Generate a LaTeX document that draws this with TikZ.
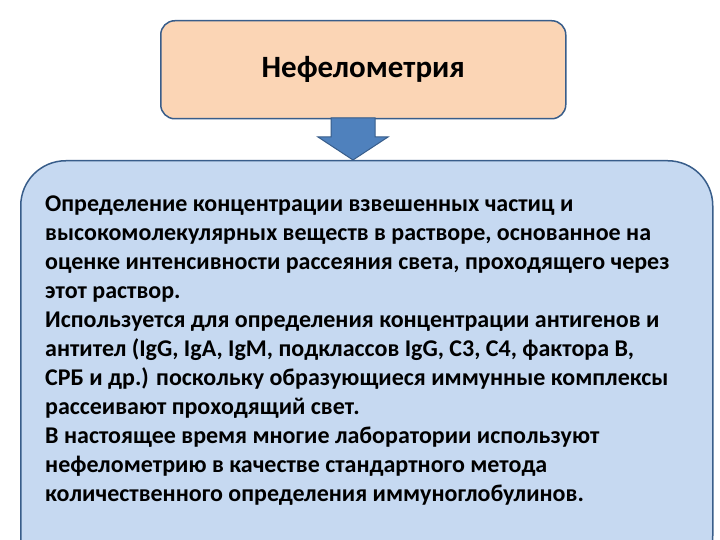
\documentclass[tikz,border=0pt]{standalone}
\usepackage{fontspec}
\setmainfont{Carlito}
\definecolor{peach}{HTML}{FBD5B5}
\definecolor{lblue}{HTML}{C6D9F1}
\definecolor{bord}{HTML}{385D8A}
\definecolor{arr}{HTML}{4F81BD}
\tikzset{box/.style={draw=bord,line width=1.5pt}}
\begin{document}
\begin{tikzpicture}[x=1pt,y=-1pt]
\useasboundingbox (0,0) rectangle (720,540);
\clip (0,0) rectangle (720,540);
\fill[white] (0,0) rectangle (720,540);
\node[box,fill=peach,rounded corners=14pt,minimum width=405pt,minimum height=98pt,anchor=north west,font=\bfseries\fontsize{31}{36}\selectfont] (title) at (160,20) {Нефелометрия};
\node[box,fill=lblue,rounded corners=45pt,minimum width=692pt,minimum height=420pt,anchor=north west] (body) at (20,160) {};
\coordinate (tip) at (353,160);
\fill[arr,draw=bord,line width=1pt] (331,118) -- (375,118) -- (375,137) -- (388,137) -- (tip) -- (318,137) -- (331,137) -- cycle;
\node[anchor=north west,align=left,inner sep=0pt,font=\bfseries\fontsize{24}{29}\selectfont] (txt) at (45,196) {Определение концентрации взвешенных частиц и\\
высокомолекулярных веществ в растворе, основанное на\\
оценке интенсивности рассеяния света, проходящего через\\
этот раствор.\\
Используется для определения концентрации антигенов и\\
антител (IgG, IgA, IgM, подклассов IgG, C3, C4, фактора B,\\
СРБ и др.) поскольку образующиеся иммунные комплексы\\
рассеивают проходящий свет.\\
В настоящее время многие лаборатории используют\\
нефелометрию в качестве стандартного метода\\
количественного определения иммуноглобулинов.};
\end{tikzpicture}
\end{document}
